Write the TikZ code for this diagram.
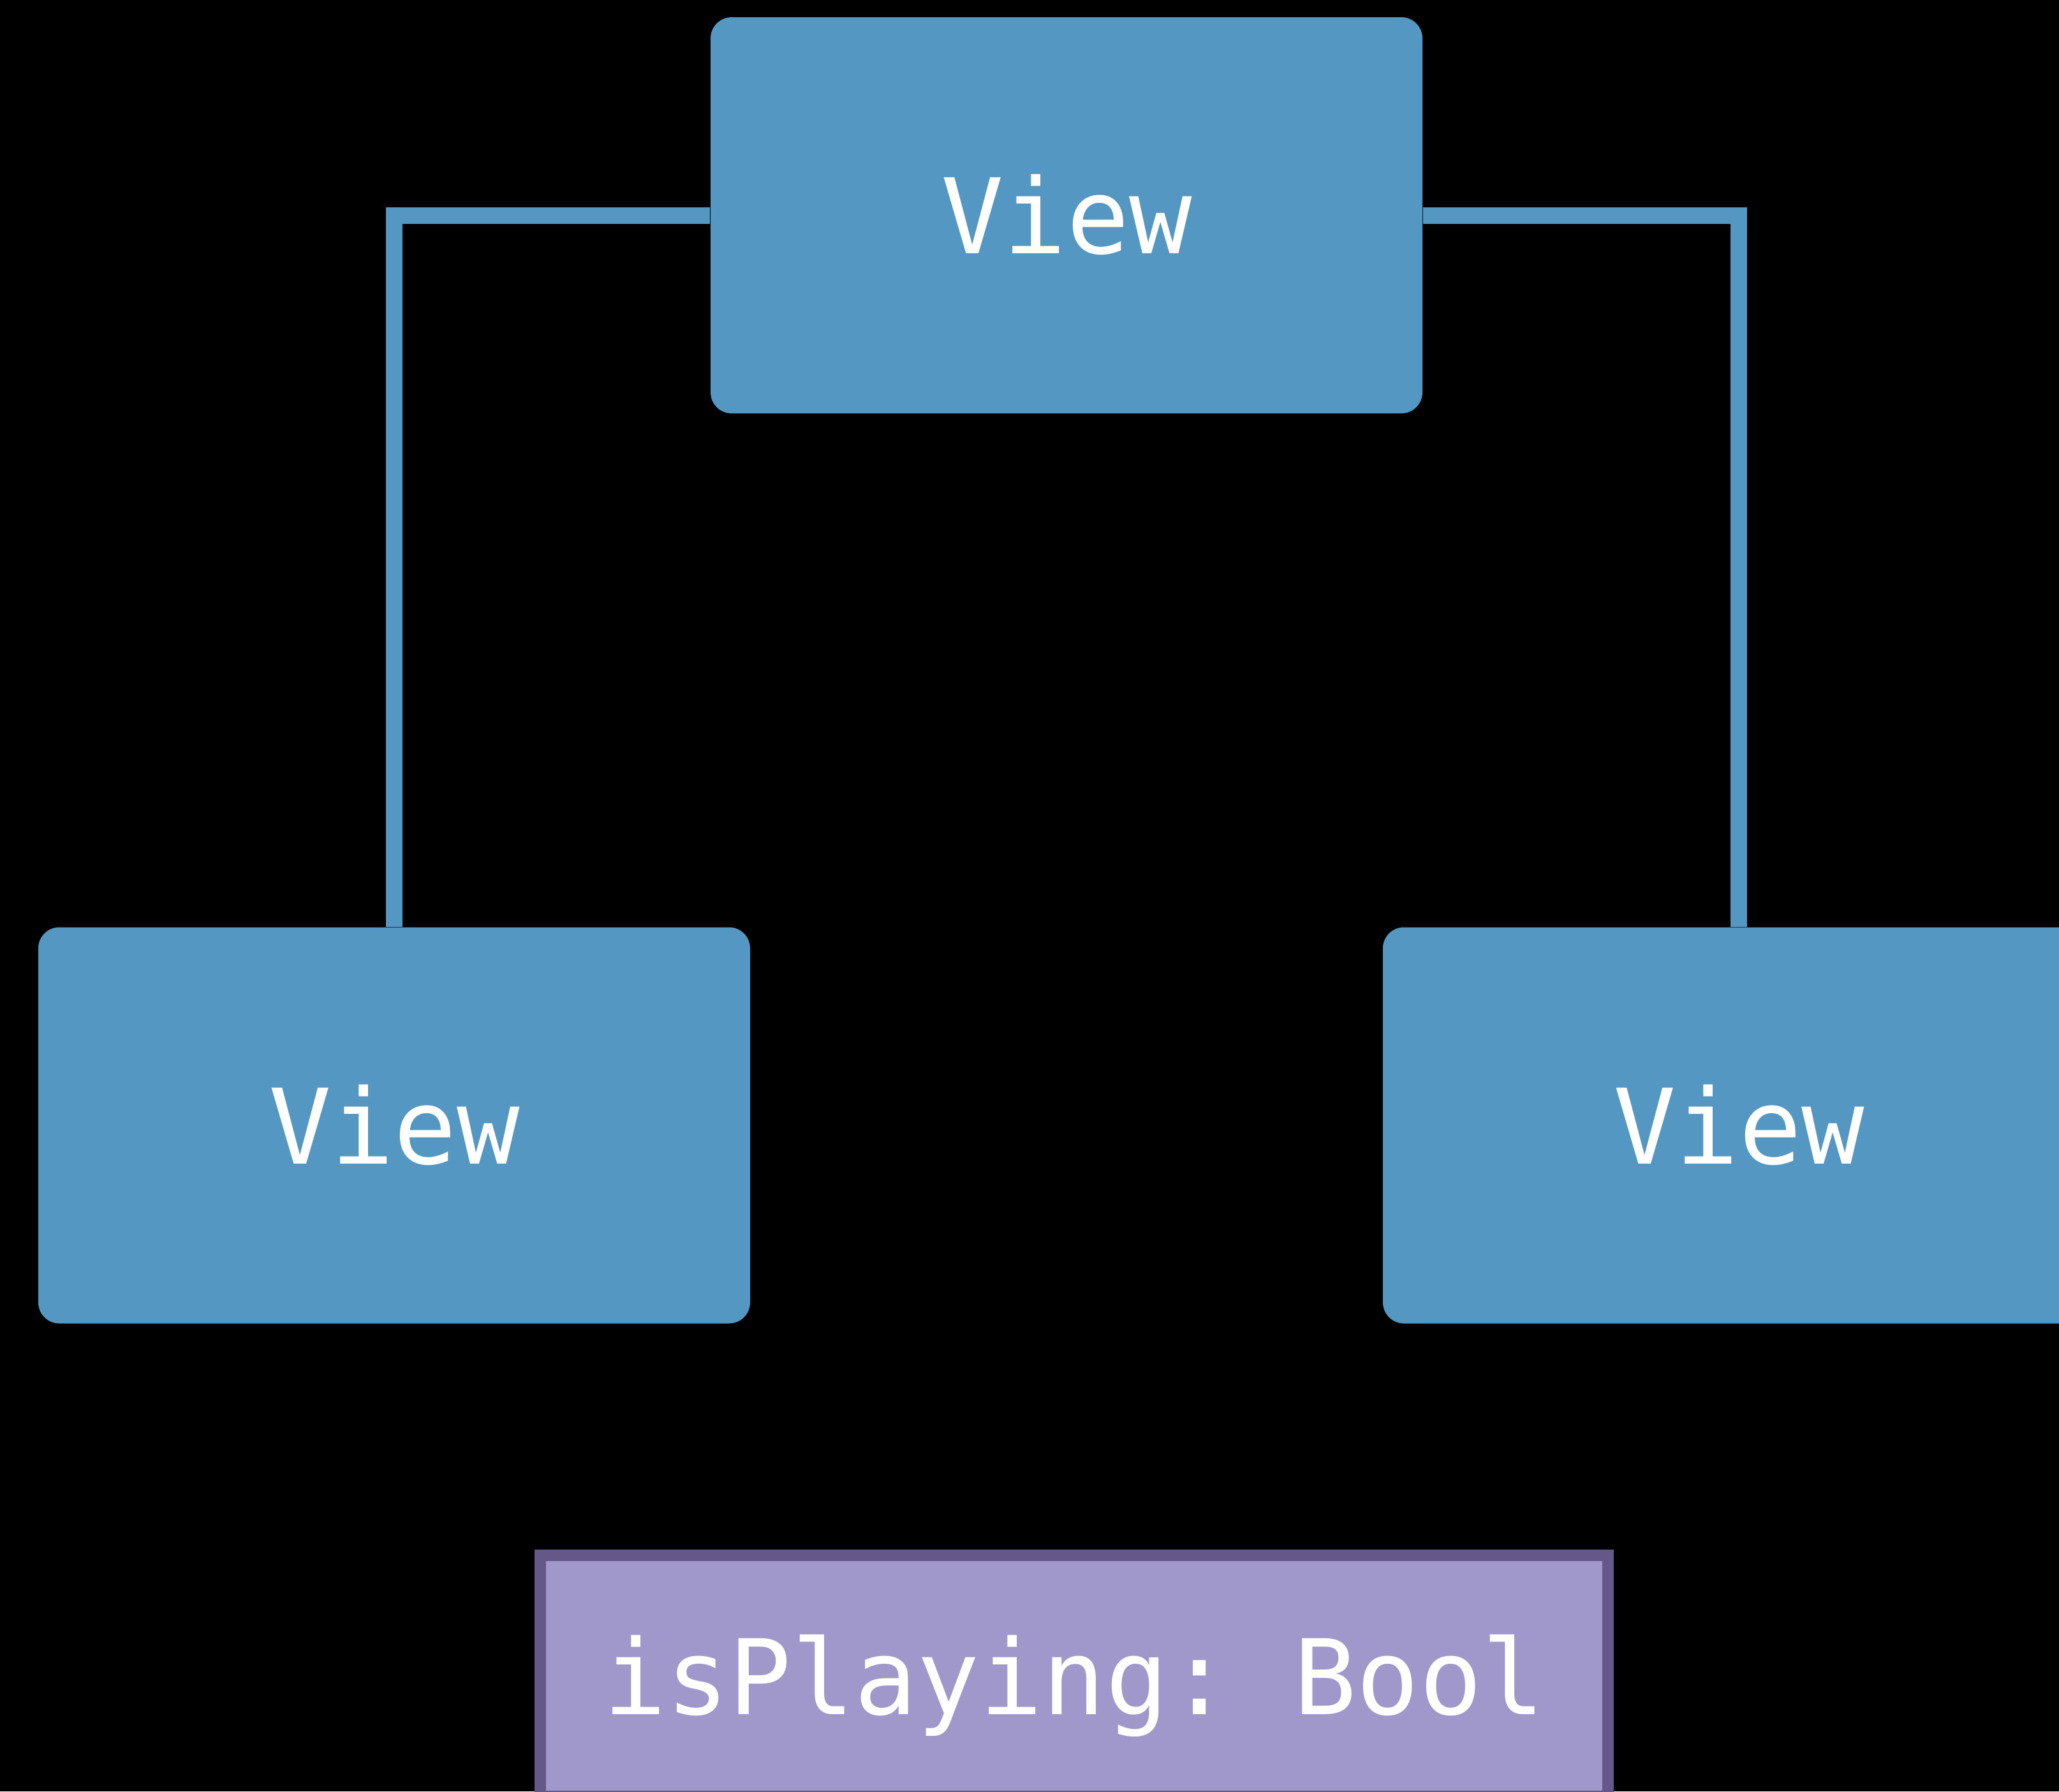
\documentclass[tikz,border=0pt]{standalone}
\usepackage{fontspec}
\setmonofont{DejaVu Sans Mono}
\usepackage{tikz}
\usetikzlibrary{positioning}
\definecolor{viewblue}{RGB}{84,151,194}
\definecolor{statefill}{RGB}{160,152,202}
\definecolor{stateline}{RGB}{101,88,136}
\tikzset{
  on grid,
  every node/.style={font=\ttfamily\fontsize{46.5}{56}\selectfont, text=white,
    inner sep=0pt, text height=1.2cm, text depth=0pt},
  viewbox/.style={fill=viewblue, rounded corners=0.33cm,
    minimum width=11.16cm, minimum height=6.21cm},
  statebox/.style={fill=statefill, draw=stateline, line width=0.18cm,
    minimum width=16.74cm, minimum height=3.78cm},
  link/.style={draw=viewblue, line width=0.26cm},
}
\begin{document}
\begin{tikzpicture}
      \fill[black] (0,0) rectangle (32.28,-28.08);
      \useasboundingbox (0,0) rectangle (32.28,-28.08);

      \node[viewbox] (root) at (16.72,-3.375) {View};
      \node[viewbox,below left=14.265cm and 10.54cm of root]  (leftview) {View};
      \node[viewbox,below right=14.265cm and 10.54cm of root] (rightview) {View};
      \node[statebox,below=22.895cm of root,xshift=0.12cm]    (isplaying) {isPlaying: Bool};

      \draw[link] (root.west) -| (leftview.north)
                  (root.east) -| (rightview.north);
    \end{tikzpicture}
\end{document}
